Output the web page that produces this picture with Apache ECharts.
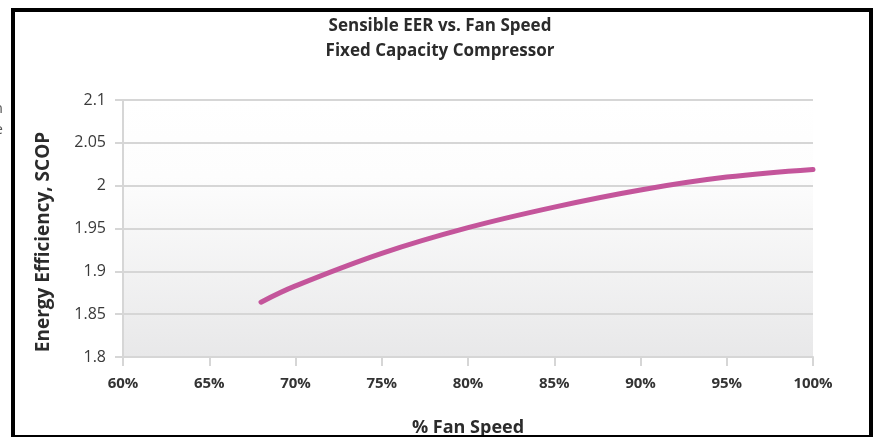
<!DOCTYPE html>
<html><head><meta charset="utf-8">
<script src="https://cdn.jsdelivr.net/npm/echarts@6/dist/echarts.min.js"></script>
<style>html,body{margin:0;padding:0;background:#fff}#c{width:880px;height:437px}</style>
</head><body><div id="c"></div>
<script>
const titleLines = ['Sensible EER vs. Fan Speed', 'Fixed Capacity Compressor'];
const xName = '% Fan Speed';
const yName = 'Energy Efficiency, SCOP';
const fanSpeed = [68, 70, 75, 80, 85, 90, 95, 100];
const scop = [1.864, 1.883, 1.921, 1.951, 1.975, 1.995, 2.010, 2.019];
const xTicks = [60, 65, 70, 75, 80, 85, 90, 95, 100];
const yTicks = [1.8, 1.85, 1.9, 1.95, 2, 2.05, 2.1];

const chart = echarts.init(document.getElementById('c'), null, {renderer: 'canvas'});
chart.setOption({
  animation: false,
  backgroundColor: '#fff',
  title: {
    text: titleLines.join('\n'),
    left: 'center', top: 9,
    textStyle: {fontFamily: 'Open Sans', fontWeight: 'bold', fontSize: 17, color: '#2b2b2b', lineHeight: 25}
  },
  grid: {
    left: 123, right: 67, top: 100, bottom: 80,
    outerBoundsMode: 'none', containLabel: false,
    show: true, borderWidth: 0,
    backgroundColor: new echarts.graphic.LinearGradient(0, 0, 0, 1, [
      {offset: 0, color: '#ffffff'},
      {offset: 0.3, color: '#fdfdfd'},
      {offset: 1, color: '#e8e8e9'}
    ])
  },
  xAxis: {
    type: 'value', min: xTicks[0], max: xTicks[xTicks.length - 1], interval: 5,
    name: xName, nameLocation: 'middle', nameGap: 62,
    nameTextStyle: {fontFamily: 'Open Sans', fontWeight: 'bold', fontSize: 18, color: '#2b2b2b'},
    axisLine: {show: true, lineStyle: {color: '#d6d6d6', width: 2}},
    axisTick: {show: true, length: 9, lineStyle: {color: '#d6d6d6', width: 2}},
    splitLine: {show: false},
    axisLabel: {formatter: v => v + '%', fontFamily: 'Open Sans', fontWeight: 'bold', fontSize: 15, color: '#333', margin: 19}
  },
  yAxis: {
    type: 'value', min: yTicks[0], max: yTicks[yTicks.length - 1], interval: 0.05,
    axisLine: {show: true, lineStyle: {color: '#d6d6d6', width: 2}},
    axisTick: {show: true, length: 8, lineStyle: {color: '#d6d6d6', width: 2}},
    splitLine: {show: true, lineStyle: {color: '#d6d6d6', width: 2}},
    axisLabel: {formatter: v => String(+v.toFixed(2)), fontFamily: 'Open Sans', fontSize: 16, color: '#3a3a3a', margin: 17}
  },
  series: [{
    type: 'line', smooth: 0.4, symbol: 'none',
    data: fanSpeed.map((x, i) => [x, scop[i]]),
    lineStyle: {color: '#c4559b', width: 5, cap: 'round'}
  }],
  graphic: [
    {type: 'rect', shape: {x: 13, y: 10, width: 858, height: 427}, style: {fill: null, stroke: '#000', lineWidth: 4}, z: 100},
    {type: 'text', x: 44, y: 242, rotation: Math.PI / 2,
     style: {text: yName, align: 'center', verticalAlign: 'middle', fontFamily: 'Open Sans', fontWeight: 'bold', fontSize: 19, fill: '#2b2b2b'}},
    {type: 'text', style: {text: 'n', x: 3, y: 101, align: 'right', fontFamily: 'Open Sans', fontSize: 15, fill: '#555'}},
    {type: 'text', style: {text: 'e', x: 3, y: 122, align: 'right', fontFamily: 'Open Sans', fontSize: 15, fill: '#555'}}
  ]
});
</script></body></html>
